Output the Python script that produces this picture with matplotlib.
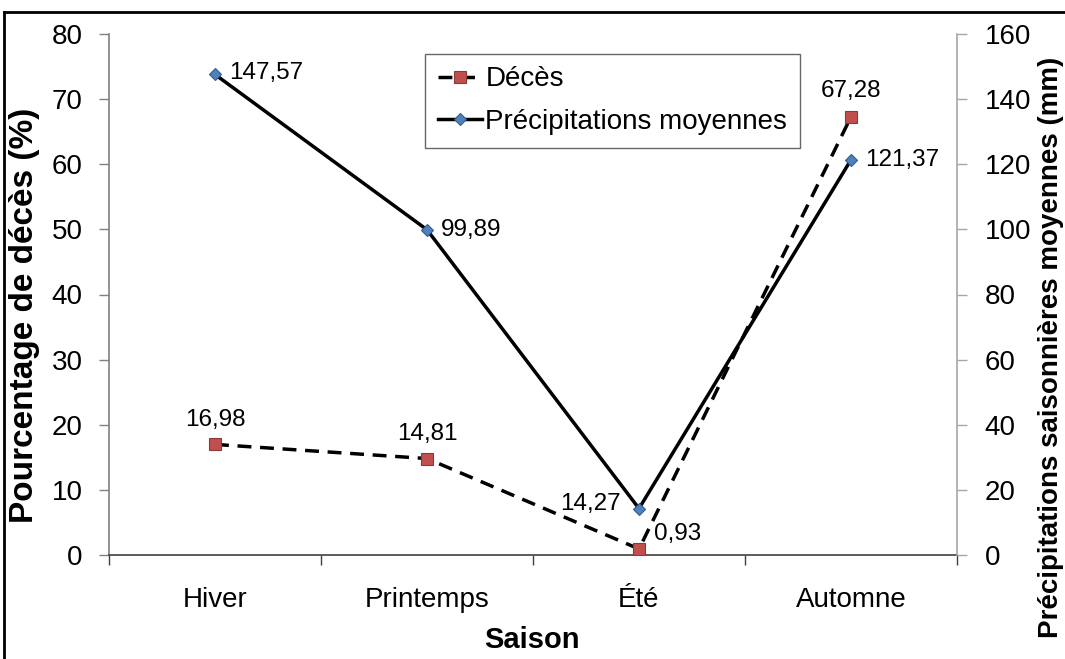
import matplotlib
matplotlib.use("Agg")
import matplotlib.pyplot as plt
from matplotlib.lines import Line2D
import numpy as np

plt.rcParams['font.family'] = ['Liberation Sans', 'DejaVu Sans']

saisons = ["Hiver", "Printemps", "Été", "Automne"]
deces = [16.98, 14.81, 0.93, 67.28]
precip = [147.57, 99.89, 14.27, 121.37]
deces_labels = ["16,98", "14,81", "0,93", "67,28"]
precip_labels = ["147,57", "99,89", "14,27", "121,37"]

W, H = 1065, 659
fig = plt.figure(figsize=(W/100, H/100), dpi=100)
ax = fig.add_axes([109/W, 104/H, 848/W, 521/H])
ax2 = ax.twinx()

x = np.arange(len(saisons))

l1, = ax.plot(x, deces, color="black", lw=2.5, ls=(0, (4, 2.5)), marker="s",
              markersize=8.5, markerfacecolor="#C0504D", markeredgecolor="#8B3A38",
              markeredgewidth=0.8, zorder=3)
l2, = ax2.plot(x, precip, color="black", lw=2.5, marker="D", markersize=6.5,
               markerfacecolor="#4F81BD", markeredgecolor="#2F5D8F",
               markeredgewidth=0.8, zorder=3)

ax.set_xlim(-0.5, 3.5)
ax.set_ylim(0, 80)
ax2.set_ylim(0, 160)
ax.set_yticks(np.arange(0, 81, 10))
ax2.set_yticks(np.arange(0, 161, 20))

ax.set_xticks(np.arange(-0.5, 3.6, 1.0))
ax.set_xticklabels([])
ax.set_xticks(x, minor=True)
ax.set_xticklabels(saisons, minor=True)
ax.tick_params(axis="x", which="minor", length=0, labelsize=20, pad=23)
ax.tick_params(axis="x", which="major", length=7, width=1, color="#404040", direction="out")
ax.tick_params(axis="y", labelsize=20, length=7, width=1, color="#808080", pad=12)
ax2.tick_params(axis="y", labelsize=20, length=7, width=1, color="#A6A6A6", pad=13)

for s in ["top", "right"]:
    ax.spines[s].set_visible(False)
for s in ["top", "left", "bottom"]:
    ax2.spines[s].set_visible(False)
ax.spines["left"].set_color("#808080")
ax.spines["left"].set_linewidth(1.2)
ax.spines["bottom"].set_color("#404040")
ax.spines["bottom"].set_linewidth(1.2)
ax2.spines["right"].set_color("#A6A6A6")
ax2.spines["right"].set_linewidth(1.2)

fig.text(532/W, 1 - 640/H, "Saison", fontsize=21, fontweight="bold", ha="center", va="center")
fig.text(25/W, 1 - 315/H, "Pourcentage de décès (%)", fontsize=24, fontweight="bold",
         rotation=90, ha="center", va="center")
fig.text(1051/W, 1 - 347/H, "Précipitations saisonnières moyennes (mm)", fontsize=20,
         fontweight="bold", rotation=90, ha="center", va="center")

# data labels
d_off = [(0, 10), (0, 10), (11, 11), (0, 11)]
d_ha = ["center", "center", "left", "center"]
d_va = ["bottom", "bottom", "center", "bottom"]
for i in range(len(x)):
    ax.annotate(deces_labels[i], (x[i], deces[i]), xytext=d_off[i], textcoords="offset points",
                ha=d_ha[i], va=d_va[i], fontsize=17.5)
p_off = [(10, 1), (10, 0), (-13, 3), (10, 0)]
p_ha = ["left", "left", "right", "left"]
for i in range(len(x)):
    ax2.annotate(precip_labels[i], (x[i], precip[i]), xytext=p_off[i], textcoords="offset points",
                 ha=p_ha[i], va="center", fontsize=17.5)

leg = ax2.legend([l1, l2], ["Décès", "Précipitations moyennes"], loc="upper left",
                 bbox_to_anchor=((425-109)/848, 1 - (54-34)/521), fontsize=20,
                 frameon=True, fancybox=False, edgecolor="#404040", handlelength=1.6,
                 handletextpad=0.12, borderpad=0.45, labelspacing=0.6, borderaxespad=0)
leg.get_frame().set_linewidth(1.0)

# outer frame (partial)
fx = 4/W
fy = 1 - 12/H
fig.add_artist(Line2D([fx, fx], [0, fy], transform=fig.transFigure, color="black", lw=2))
fig.add_artist(Line2D([fx, 1], [fy, fy], transform=fig.transFigure, color="black", lw=2))

fig.savefig("out.png", dpi=100)
